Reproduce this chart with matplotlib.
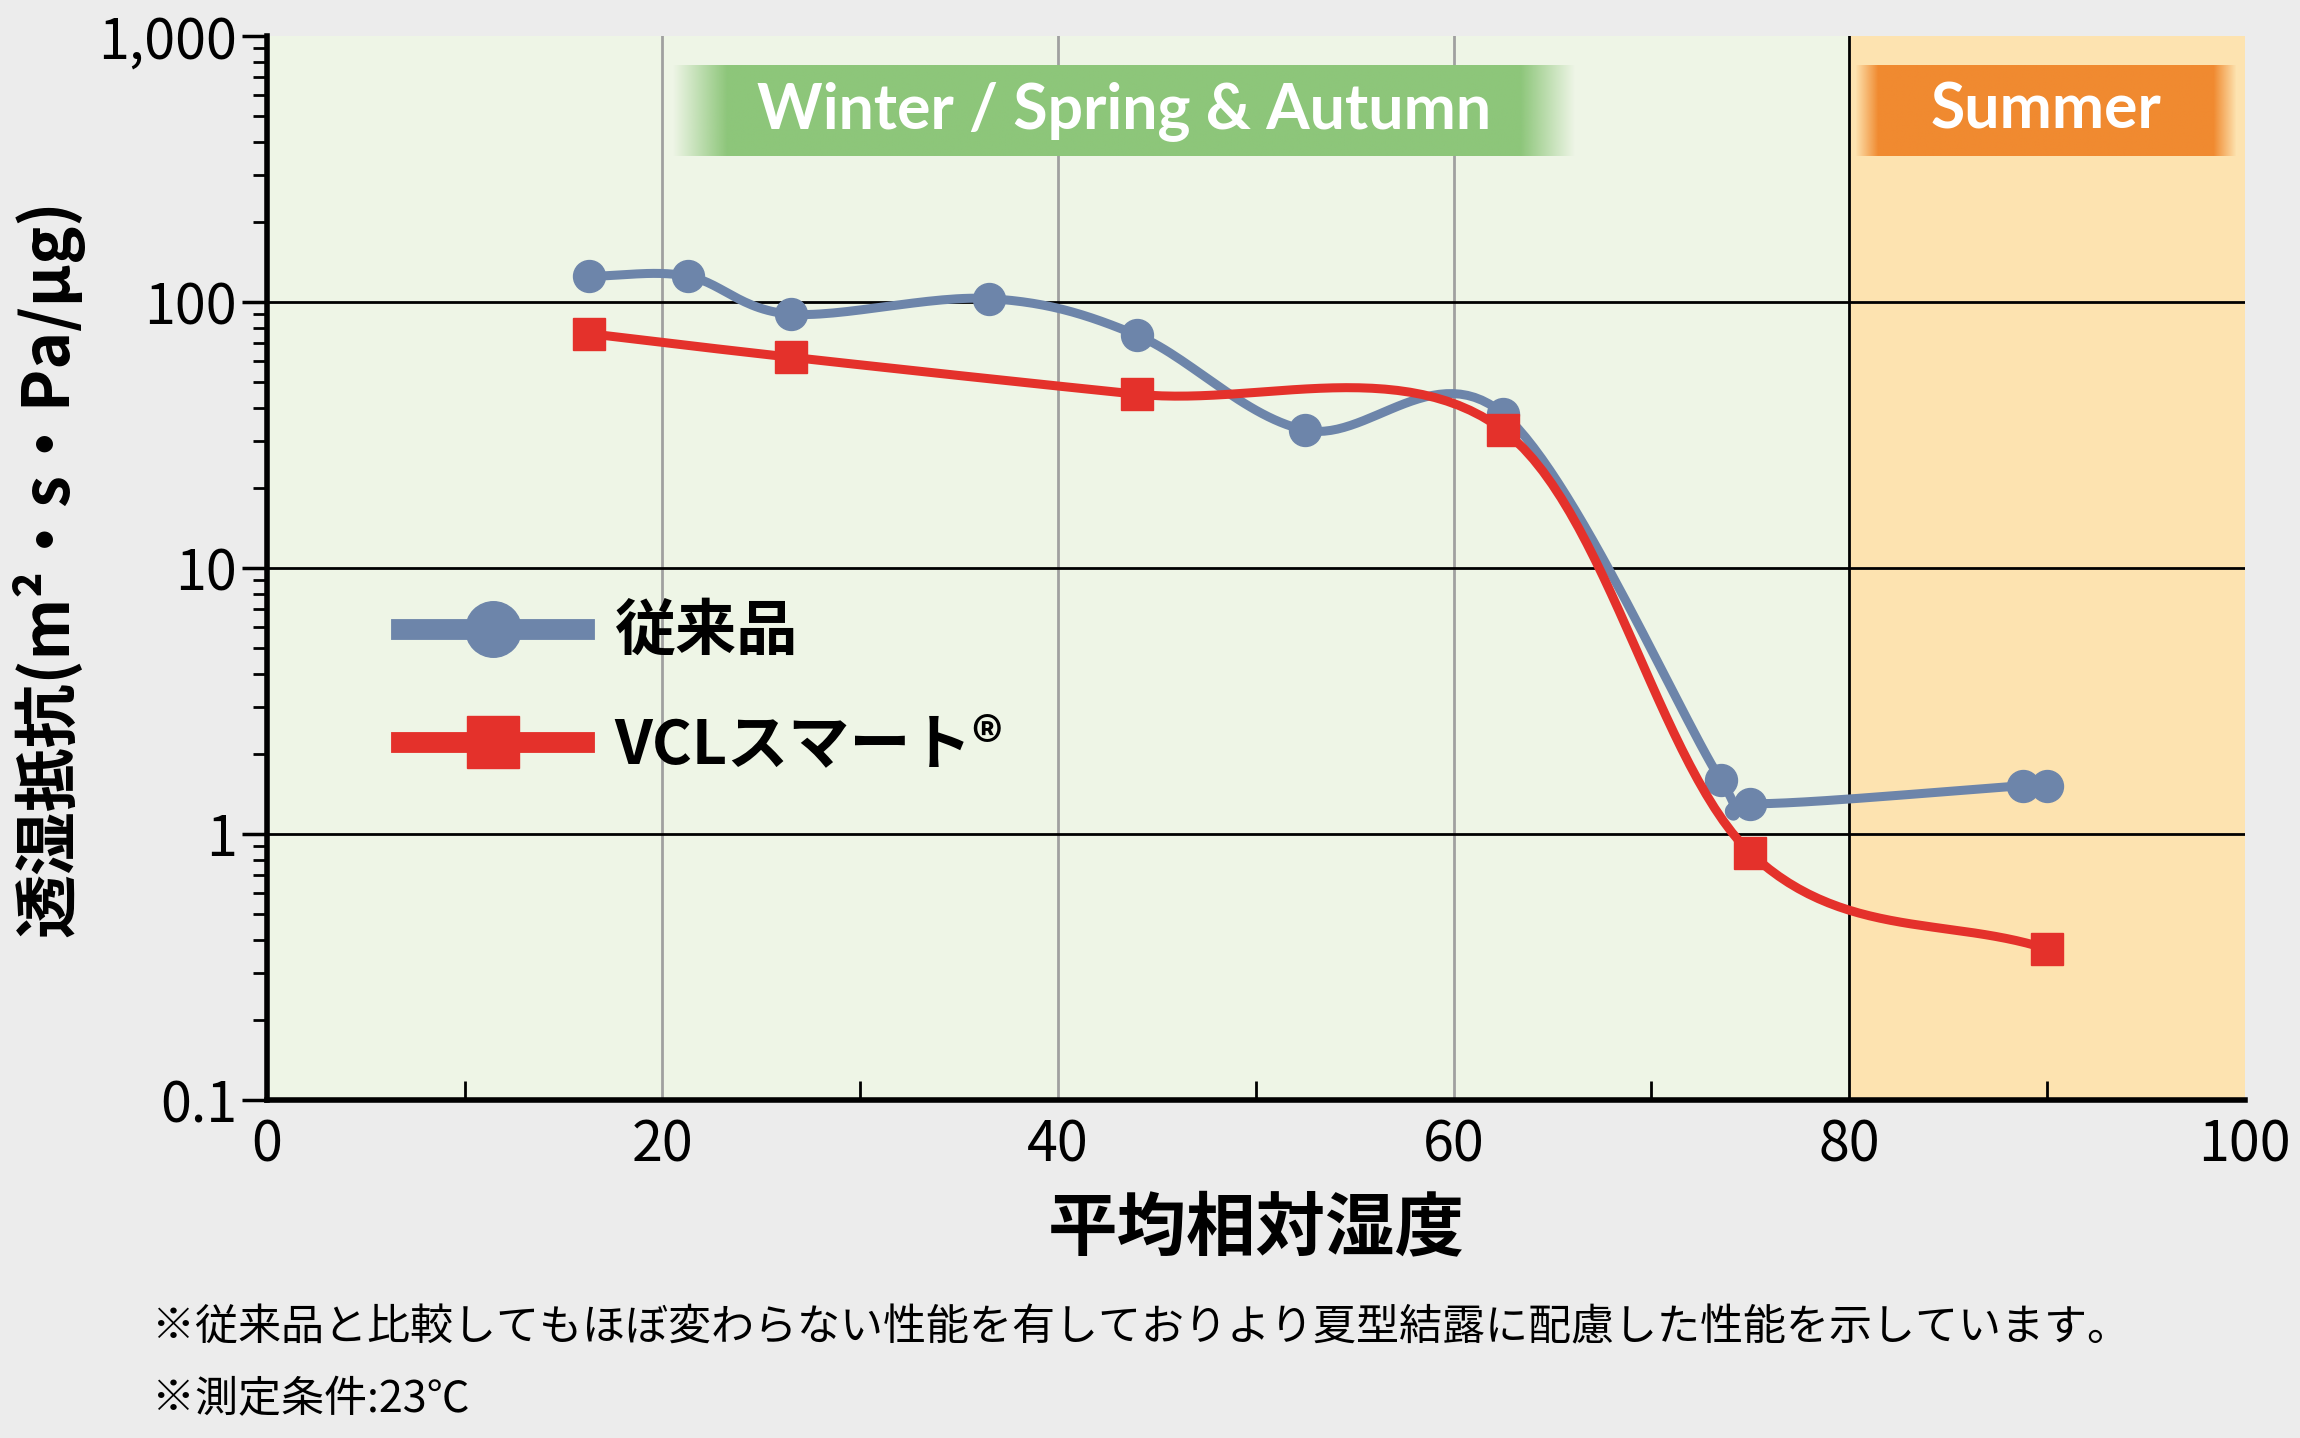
import numpy as np
import matplotlib
matplotlib.use("Agg")
import matplotlib.pyplot as plt
from matplotlib.lines import Line2D
from matplotlib.ticker import FixedLocator, LogLocator, NullFormatter

plt.rcParams['font.family'] = ['Noto Sans CJK JP', 'DejaVu Sans']

blue_x = [16.3, 21.3, 26.5, 36.5, 44.0, 52.5, 62.5, 73.5, 75.0, 88.8, 90.0]
blue_y = [125, 125, 90, 103, 75, 33, 38, 1.6, 1.3, 1.52, 1.52]
red_x = [16.3, 26.5, 44.0, 62.5, 75.0, 90.0]
red_y = [76, 62, 45, 33, 0.85, 0.37]
xticks = [0, 20, 40, 60, 80, 100]
yticks = [0.1, 1, 10, 100, 1000]
ylabels = ['0.1', '1', '10', '100', '1,000']

def smooth(xs, ys, n=30):
    x = np.array(xs, float); y = np.log10(np.array(ys, float))
    P = np.column_stack([x, y])
    P = np.vstack([P[0] * 2 - P[1], P, P[-1] * 2 - P[-2]])
    out = []
    for i in range(1, len(P) - 2):
        p0, p1, p2, p3 = P[i - 1], P[i], P[i + 1], P[i + 2]
        t = np.linspace(0, 1, n)[:, None]
        pt = 0.5 * ((2 * p1) + (-p0 + p2) * t + (2 * p0 - 5 * p1 + 4 * p2 - p3) * t ** 2 + (-p0 + 3 * p1 - 3 * p2 + p3) * t ** 3)
        out.append(pt)
    o = np.vstack(out)
    return o[:, 0], 10 ** o[:, 1]

fig = plt.figure(figsize=(23, 14.38), dpi=100, facecolor='#ececec')
ax = fig.add_axes([0.116, 0.235, 0.86, 0.74])
ax.set_facecolor('#eef5e6')
ax.set_yscale('log')
ax.set_xlim(0, 100); ax.set_ylim(0.1, 1000)
ax.axvspan(80, 100, color='#fde3b0', zorder=0)
for v in [20, 40, 60]:
    ax.axvline(v, color='#a0a0a0', lw=2, zorder=1)
ax.axvline(80, color='black', lw=2, zorder=1)
for h in [1, 10, 100]:
    ax.axhline(h, color='black', lw=2, zorder=1)

bx, by = smooth(blue_x, blue_y)
rx, ry = smooth(red_x, red_y)
bc = '#6d85aa'; rc = '#e4312b'
ax.plot(bx, by, color=bc, lw=6.5, zorder=3, solid_capstyle='round')
ax.plot(blue_x, blue_y, 'o', color=bc, ms=23, zorder=4)
ax.plot(rx, ry, color=rc, lw=6.5, zorder=5, solid_capstyle='round')
ax.plot(red_x, red_y, 's', color=rc, ms=23, zorder=6)

def banner(x0, x1, y0, y1, color, text):
    c = np.array(matplotlib.colors.to_rgb(color))
    w = 400
    xs = np.linspace(0, 1, w)
    a = np.clip(np.minimum(xs, 1 - xs) / 0.06, 0, 1)
    img = np.zeros((1, w, 4)); img[0, :, :3] = c; img[0, :, 3] = a
    ax.imshow(img, extent=[x0, x1, y0, y1], transform=ax.transAxes, aspect='auto', zorder=2, interpolation='bilinear')
    ax.text((x0 + x1) / 2, (y0 + y1) / 2, text, transform=ax.transAxes, ha='center', va='center',
            color='white', fontsize=45, fontweight='bold', zorder=7, family=['Lato', 'DejaVu Sans'])

banner(0.205, 0.662, 0.887, 0.972, '#8dc67a', 'Winter / Spring & Autumn')
banner(0.803, 0.996, 0.887, 0.972, '#f08a30', 'Summer')
ax.set_xlim(0, 100); ax.set_ylim(0.1, 1000)

ax.set_xticks(xticks)
ax.set_xticklabels([str(t) for t in xticks], fontsize=40)
ax.xaxis.set_minor_locator(FixedLocator([10, 30, 50, 70, 90]))
ax.tick_params(axis='x', which='major', length=0, pad=12)
ax.tick_params(axis='x', which='minor', direction='in', length=14, width=2)
ax.set_yticks(yticks)
ax.set_yticklabels(ylabels, fontsize=40)
ax.yaxis.set_minor_locator(LogLocator(base=10, subs=np.arange(2, 10)))
ax.yaxis.set_minor_formatter(NullFormatter())
ax.tick_params(axis='y', which='major', length=18, width=2.5)
ax.tick_params(axis='y', which='minor', length=10, width=2)
for s in ['top', 'right']:
    ax.spines[s].set_visible(False)
for s in ['left', 'bottom']:
    ax.spines[s].set_linewidth(4)

ax.set_xlabel('平均相対湿度', fontsize=50, fontweight='bold', labelpad=14)
ax.set_ylabel('透湿抵抗(m²・s・Pa/μg)', fontsize=46, fontweight='bold', labelpad=10)

h1 = Line2D([], [], color=bc, lw=15, marker='o', ms=40)
h2 = Line2D([], [], color=rc, lw=15, marker='s', ms=38)
ax.legend([h1, h2], ['従来品', 'VCLスマート®'], loc='upper left', bbox_to_anchor=(0.04, 0.52),
          frameon=False, handlelength=3.0, prop={'weight': 'bold', 'size': 44},
          labelspacing=0.85, handletextpad=0.5)

fig.text(0.066, 0.068, '※従来品と比較してもほぼ変わらない性能を有しておりより夏型結露に配慮した性能を示しています。', fontsize=31)
fig.text(0.066, 0.018, '※測定条件:23℃', fontsize=31)
fig.savefig('out.png', dpi=100, facecolor=fig.get_facecolor())
